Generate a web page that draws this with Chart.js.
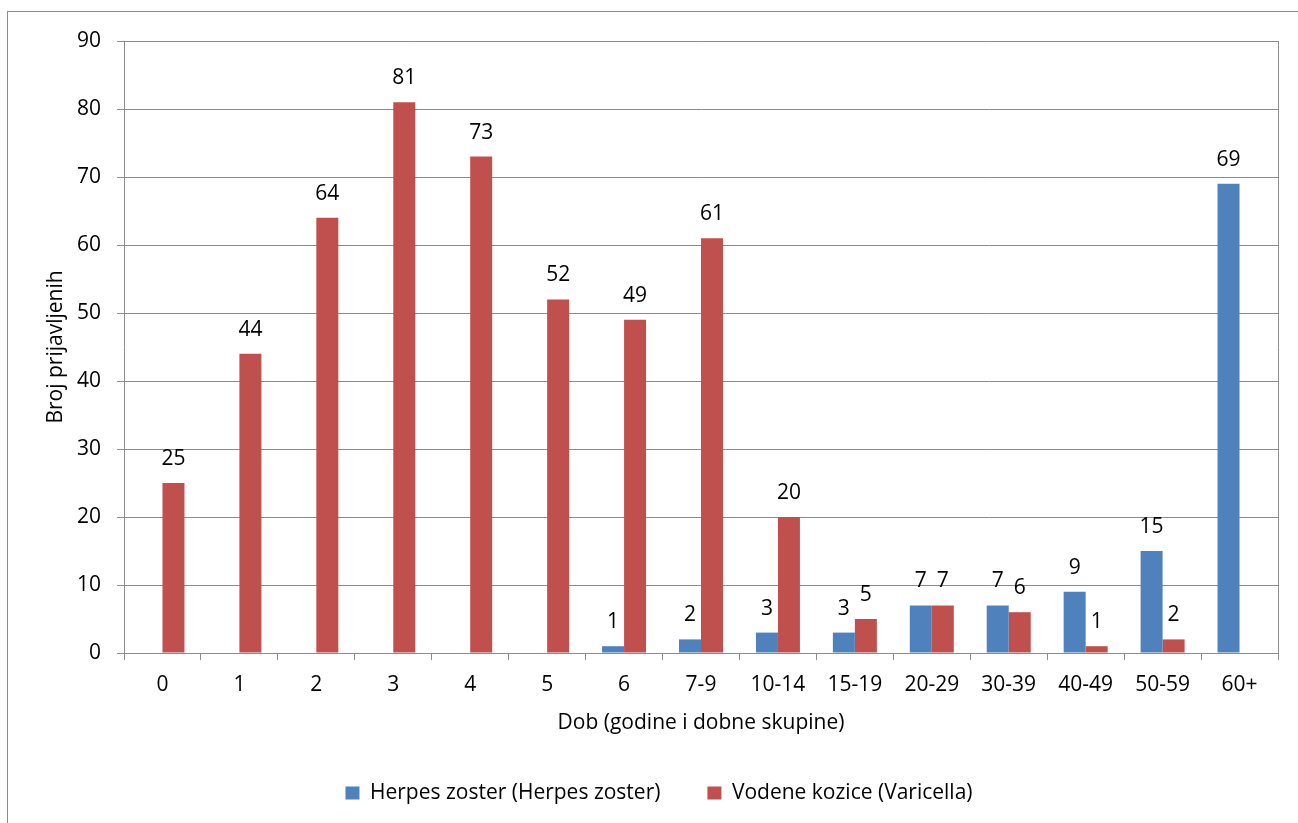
<!DOCTYPE html>
<html>
<head>
<meta charset="utf-8">
<script src="https://cdn.jsdelivr.net/npm/chart.js@4.4.1/dist/chart.umd.min.js"></script>
<style>
    html, body { margin: 0; padding: 0; background: #fff; overflow: hidden; }
    #frame { position: absolute; left: 7px; top: 11px; width: 1400px; height: 900px; border: 1px solid #8c8c8c; }
    #wrap { position: absolute; left: 0; top: 0; width: 1298px; height: 823px; }
</style>
</head>
<body>
<div id="frame"></div>
<div id="wrap"><canvas id="age-chart" width="1298" height="823"></canvas></div>
<script>
const ageGroups = ['0', '1', '2', '3', '4', '5', '6', '7-9', '10-14', '15-19', '20-29', '30-39', '40-49', '50-59', '60+'];
const herpesZoster = [0, 0, 0, 0, 0, 0, 1, 2, 3, 3, 7, 7, 9, 15, 69];
const varicella = [25, 44, 64, 81, 73, 52, 49, 61, 20, 5, 7, 6, 1, 2, 0];
const seriesNames = ['Herpes zoster (Herpes zoster)', 'Vodene kozice (Varicella)'];
const yTitle = 'Broj prijavljenih';
const xTitle = 'Dob (godine i dobne skupine)';

const FONT = '"Open Sans"';
const FONT_SIZE = 21;
const GRID = '#8c8c8c';

// brojevi iznad stupaca (nula se ne ispisuje)
const valueLabels = {
    id: 'valueLabels',
    afterDatasetsDraw(chart) {
        const ctx = chart.ctx;
        ctx.save();
        ctx.font = FONT_SIZE + 'px ' + FONT;
        ctx.fillStyle = '#000';
        ctx.textAlign = 'center';
        ctx.textBaseline = 'alphabetic';
        chart.data.datasets.forEach((ds, i) => {
            chart.getDatasetMeta(i).data.forEach((bar, j) => {
                const v = ds.data[j];
                if (!v) return;
                ctx.fillText(String(v), bar.x, bar.y - 18);
            });
        });
        ctx.restore();
    }
};

function renderChart() {
    const ctx = document.getElementById('age-chart').getContext('2d');
    Chart.defaults.font.family = FONT;
    Chart.defaults.font.size = FONT_SIZE;
    Chart.defaults.color = '#000';

    new Chart(ctx, {
        type: 'bar',
        data: {
            labels: ageGroups,
            datasets: [{
                label: seriesNames[0],
                data: herpesZoster,
                backgroundColor: '#4f81bd',
                borderWidth: 0,
                categoryPercentage: 0.572,
                barPercentage: 1
            }, {
                label: seriesNames[1],
                data: varicella,
                backgroundColor: '#c0504d',
                borderWidth: 0,
                categoryPercentage: 0.572,
                barPercentage: 1
            }]
        },
        options: {
            responsive: false,
            animation: false,
            layout: { padding: { left: 40, top: 41, right: 20, bottom: 9.5 } },
            plugins: {
                legend: {
                    position: 'bottom',
                    labels: { boxWidth: 14, boxHeight: 13, padding: 47 }
                },
                tooltip: { enabled: false }
            },
            scales: {
                x: {
                    grid: { drawOnChartArea: false, drawTicks: true, tickLength: 7, color: GRID },
                    border: { color: GRID },
                    ticks: { padding: 12 },
                    title: { display: true, text: xTitle, padding: { top: 2, bottom: 0 } },
                    afterFit: (scale) => { scale.height = 82.5; }
                },
                y: {
                    min: 0,
                    max: 90,
                    ticks: { stepSize: 10, padding: 16 },
                    grid: { color: GRID, tickLength: 7 },
                    border: { color: GRID },
                    title: { display: true, text: yTitle, padding: { top: 3, bottom: 0 } },
                    afterFit: (scale) => { scale.width = 84; }
                },
                y2: {
                    position: 'right',
                    min: 0,
                    max: 90,
                    ticks: { display: false },
                    grid: { drawOnChartArea: false, drawTicks: false },
                    border: { color: GRID },
                    afterFit: (scale) => { scale.width = 0; }
                }
            }
        },
        plugins: [valueLabels]
    });
}

document.addEventListener('DOMContentLoaded', renderChart);
</script>
</body>
</html>
